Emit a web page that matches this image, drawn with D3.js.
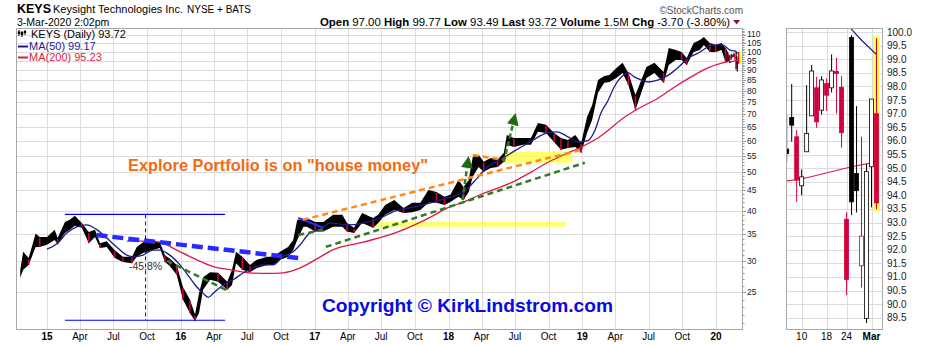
<!DOCTYPE html>
<html>
<head>
<meta charset="utf-8">
<script src="https://cdn.jsdelivr.net/npm/d3@7"></script>
<style>
  body { margin: 0; background: #fff; }
  svg text { font-family: "Liberation Sans", Arial, sans-serif; }
</style>
</head>
<body>
<script>
// ---- price samples (high / low) ----
const priceDates = [
  "2014-10-20","2014-10-28","2014-11-12","2014-12-01","2014-12-12",
  "2015-01-01","2015-01-22","2015-01-30","2015-02-19","2015-03-04","2015-03-18","2015-04-06","2015-04-25","2015-05-12","2015-05-26","2015-06-13","2015-07-05","2015-07-27","2015-08-21","2015-09-03","2015-09-20","2015-10-14","2015-11-05","2015-11-19","2015-12-02","2015-12-21",
  "2016-01-07","2016-01-26","2016-02-09","2016-02-20","2016-03-02","2016-03-21","2016-04-12","2016-05-07","2016-05-20","2016-05-31","2016-06-17","2016-07-08","2016-07-27","2016-08-24","2016-09-09","2016-09-28","2016-10-20","2016-11-03","2016-11-14","2016-12-01","2016-12-10",
  "2017-01-02","2017-01-24","2017-02-20","2017-03-17","2017-03-30","2017-04-18","2017-05-10","2017-06-09","2017-06-23","2017-07-12","2017-08-06","2017-08-31","2017-09-24","2017-10-16","2017-11-07","2017-11-29","2017-12-21",
  "2018-01-06","2018-01-28","2018-02-11","2018-02-25","2018-03-08","2018-03-24","2018-04-07","2018-04-26","2018-05-15","2018-06-01","2018-06-09","2018-06-28","2018-07-23","2018-08-14","2018-09-02","2018-09-24","2018-10-16","2018-11-04","2018-11-23","2018-12-13","2018-12-29",
  "2019-01-14","2019-01-28","2019-02-13","2019-03-02","2019-03-16","2019-04-04","2019-04-21","2019-05-07","2019-05-26","2019-06-09","2019-06-25","2019-07-17","2019-08-11","2019-08-25","2019-09-13","2019-09-29","2019-10-13","2019-11-01","2019-11-18","2019-11-29","2019-12-15","2019-12-31",
  "2020-01-16","2020-01-27","2020-02-04"
];
const priceHigh = [
  28.5, 31.6, 30.5, 35.1, 34.4,
  34.4, 35.9, 34.2, 37.5, 38.0, 38.9, 37.3, 35.4, 35.9, 33.2, 33.6, 31.9, 30.7, 30.7, 32.5, 33.4, 33.8, 33.4, 31.0, 30.4, 29.3,
  25.8, 24.0, 22.0, 24.9, 27.3, 28.1, 28.0, 26.6, 28.5, 31.6, 30.7, 29.3, 30.2, 30.7, 30.7, 31.6, 32.5, 33.8, 38.0, 38.0, 38.4,
  37.5, 37.5, 39.1, 39.1, 37.3, 36.3, 39.5, 38.4, 39.1, 41.4, 42.6, 40.7, 41.9, 41.9, 45.1, 44.6, 43.4,
  43.9, 47.8, 45.9, 47.8, 54.6, 55.3, 53.1, 54.3, 53.7, 55.9, 62.0, 60.9, 60.9, 60.9, 66.4, 65.7, 62.7, 60.9, 60.2, 62.0, 59.2,
  68.7, 73.7, 85.1, 87.1, 87.6, 91.2, 93.9, 88.6, 78.0, 84.1, 91.7, 93.9, 89.1, 102.3, 101.2, 100.0, 96.6, 105.3, 107.2, 109.0, 105.3, 104.1,
  105.3, 102.3, 99.4
];
const priceLow = [
  27.2, 28.5, 29.3, 32.5, 32.5,
  32.9, 33.8, 33.0, 35.2, 35.9, 36.7, 36.3, 33.2, 34.4, 32.3, 32.5, 30.5, 29.8, 29.6, 30.7, 31.4, 31.9, 32.3, 29.8, 29.1, 27.7,
  24.0, 22.2, 21.2, 22.2, 25.4, 26.9, 26.6, 25.4, 26.1, 29.6, 28.5, 28.1, 28.8, 29.3, 29.3, 30.2, 30.7, 31.9, 33.8, 36.5, 36.5,
  35.5, 35.5, 36.5, 36.5, 35.5, 35.2, 37.3, 36.3, 37.3, 39.1, 40.2, 39.5, 39.7, 40.2, 41.9, 41.9, 41.4,
  42.1, 43.4, 42.6, 44.6, 48.7, 51.5, 50.1, 51.2, 51.5, 53.1, 58.6, 57.8, 58.6, 58.6, 63.1, 62.7, 59.5, 56.9, 57.5, 57.8, 55.9,
  62.7, 67.6, 79.0, 83.7, 84.1, 86.1, 88.6, 82.7, 71.6, 78.0, 86.1, 88.6, 83.7, 92.8, 95.5, 95.5, 92.8, 100.0, 101.2, 104.1, 100.0, 100.0,
  101.2, 94.4, 94.4
];

// ---- daily candles of the zoom panel ----
const dayDates = ["2020-02-05","2020-02-06","2020-02-07","2020-02-10","2020-02-11","2020-02-12","2020-02-13","2020-02-14","2020-02-18","2020-02-19","2020-02-20","2020-02-21","2020-02-24","2020-02-25","2020-02-26","2020-02-27","2020-02-28","2020-03-02","2020-03-03"];
const dayOpen  = [95.70, 96.86, 96.15, 94.35, 95.60, 96.92, 97.95, 97.13, 98.11, 97.95, 98.55, 97.97, 93.12, 99.80, 94.80, 91.41, 89.47, 95.05, 97.00];
const dayHigh  = [96.95, 98.09, 96.40, 94.95, 98.05, 98.79, 98.36, 98.38, 98.30, 99.18, 99.06, 98.38, 93.37, 99.89, 97.28, 96.15, 95.15, 97.54, 99.77];
const dayLow   = [95.23, 95.97, 93.76, 94.00, 95.60, 96.92, 96.48, 96.97, 97.10, 97.78, 97.01, 95.75, 90.33, 93.27, 93.37, 90.61, 89.31, 93.56, 93.49];
const dayClose = [95.54, 96.58, 94.56, 94.68, 96.27, 98.57, 96.70, 98.24, 97.68, 98.57, 98.48, 96.30, 90.91, 93.76, 94.17, 92.50, 94.87, 97.54, 93.72];

// ---- moving averages ----
const ma50Dates = ["2015-01-01","2015-01-30","2015-02-24","2015-03-23","2015-04-19","2015-05-17","2015-06-13","2015-07-10","2015-08-07","2015-08-24","2015-09-20","2015-10-17","2015-11-05","2015-12-02","2015-12-30","2016-01-26","2016-02-14","2016-03-02","2016-03-16","2016-03-30","2016-04-26","2016-05-23","2016-06-20","2016-07-17","2016-08-13","2016-09-09","2016-10-05","2016-11-03","2016-11-22","2016-12-19","2017-01-16","2017-02-12","2017-03-30","2017-05-13","2017-06-29","2017-08-14","2017-09-28","2017-11-13","2017-12-29","2018-02-11","2018-03-21","2018-04-16","2018-05-22","2018-06-26","2018-08-11","2018-09-27","2018-10-24","2018-11-23","2018-12-20","2019-01-16","2019-02-05","2019-02-21","2019-03-13","2019-03-29","2019-04-24","2019-05-07","2019-05-23","2019-06-11","2019-06-30","2019-07-28","2019-08-25","2019-09-21","2019-10-18","2019-11-14","2019-12-10","2020-01-03","2020-01-19","2020-02-07","2020-02-24","2020-02-25","2020-02-27","2020-03-02","2020-03-03"];
const ma50Values = [32.1, 33.2, 35.2, 36.5, 36.9, 35.9, 34.2, 32.5, 31.0, 30.7, 31.0, 31.9, 31.9, 31.0, 29.3, 27.2, 25.8, 24.9, 24.3, 24.9, 26.1, 26.9, 28.0, 28.8, 29.3, 29.3, 30.7, 31.6, 32.9, 35.3, 36.0, 37.3, 36.9, 37.3, 38.4, 40.2, 40.9, 41.9, 43.1, 44.6, 48.4, 51.5, 53.7, 56.2, 59.5, 62.7, 63.1, 61.3, 59.5, 60.0, 63.8, 70.3, 75.8, 81.7, 87.6, 88.6, 86.6, 85.1, 84.1, 85.1, 87.6, 91.7, 96.6, 99.4, 102.9, 104.1, 104.1, 101.2, 100.35, 100.1, 99.7, 99.35, 99.17];
const ma200Dates = ["2015-08-07","2015-09-20","2015-11-05","2015-12-21","2016-02-03","2016-03-30","2016-05-14","2016-07-07","2016-08-24","2016-10-07","2016-11-22","2017-01-16","2017-02-17","2017-05-13","2017-08-14","2017-11-13","2017-12-29","2018-02-11","2018-03-28","2018-05-15","2018-06-26","2018-08-11","2018-09-27","2018-11-10","2018-12-29","2019-02-13","2019-04-27","2019-06-11","2019-07-28","2019-09-10","2019-10-25","2019-12-10","2020-01-19","2020-02-05","2020-02-10","2020-02-25","2020-03-03"];
const ma200Values = [33.6, 33.6, 33.4, 31.9, 30.5, 29.0, 28.5, 28.0, 27.9, 28.0, 28.8, 30.7, 31.9, 33.4, 35.4, 38.6, 40.7, 42.1, 43.9, 45.6, 47.3, 49.8, 52.8, 55.2, 57.8, 60.9, 68.7, 72.8, 76.7, 81.7, 86.6, 91.2, 93.9, 94.53, 94.6, 95.05, 95.23];

// ---- axes ----
const priceTicks = [110, 105, 100, 95, 90, 85, 80, 75, 70, 65, 60, 55, 50, 45, 40, 35, 30, 25];
const zoomTicks = [100.0, 99.5, 99.0, 98.5, 98.0, 97.5, 97.0, 96.5, 96.0, 95.5, 95.0, 94.5, 94.0, 93.5, 93.0, 92.5, 92.0, 91.5, 91.0, 90.5, 90.0, 89.5];
const tickDates = ["2015-01-01","2015-04-01","2015-07-01","2015-10-01","2016-01-01","2016-04-01","2016-07-01","2016-10-01","2017-01-01","2017-04-01","2017-07-01","2017-10-01","2018-01-01","2018-04-01","2018-07-01","2018-10-01","2019-01-01","2019-04-01","2019-07-01","2019-10-01","2020-01-01"];
const tickLabels = ["15","Apr","Jul","Oct","16","Apr","Jul","Oct","17","Apr","Jul","Oct","18","Apr","Jul","Oct","19","Apr","Jul","Oct","20"];
const zoomTickDates = ["2020-02-10","2020-02-18","2020-02-24","2020-03-02"];
const zoomTickLabels = ["10","18","24","Mar"];

// ---- annotations (date, price) ----
const rangeBox = { start: "2015-02-19", end: "2016-05-01", mid: "2015-09-27", top: 39.2, bottom: 21.3, label: "-45.8%" };
const blueTrend   = [["2015-05-16", 34.8], ["2016-11-28", 30.4]];
const greenTrend1 = [["2015-11-24", 30.0], ["2016-05-14", 25.1]];
const blueFlag    = [["2016-11-17", 38.4], ["2017-01-24", 36.3]];
const greenFlag   = [["2016-11-17", 34.8], ["2017-01-24", 35.9]];
const orangeTrend = [["2016-11-29", 38.0], ["2018-12-29", 56.9]];
const orangeTop   = [["2018-03-08", 55.2], ["2018-06-01", 53.7]];
const greenTrend2 = [["2017-01-31", 32.5], ["2019-01-08", 52.8]];
const arrow1      = [["2018-02-08", 42.6], ["2018-02-25", 54.9]];
const arrow2      = [["2018-06-01", 53.1], ["2018-07-03", 70.3]];
const yellowBand  = [["2017-06-09", 37.5], ["2018-11-18", 36.5]];
const yellowBox   = [["2018-06-01", 56.3], ["2018-12-05", 52.8]];

const headerLabels = ["Open", "High", "Low", "Last", "Volume", "Chg"];
const headerValues = ["97.00", "99.77", "93.49", "93.72", "1.5M", "-3.70 (-3.80%)"];

// ---------------------------------------------------------------
const parse = d3.timeParse("%Y-%m-%d");
const svg = d3.select("body").append("svg").attr("width", 930).attr("height", 345);

const RED = "#d2003c", NAVY = "#1c1c8c", CRIMSON = "#dc1c46", GRID = "#dcdcdc", BORDER = "#a8a8a8";

// scales for the main panel
const x = d3.scaleTime().domain([parse("2015-01-01"), parse("2020-01-01")]).range([47, 716]);
const y = d3.scaleLog().domain([20.25, 114.8]).range([329, 28]);

// scales for the zoom panel
const xz = d3.scalePoint().domain(dayDates).range([786.7, 876.5]);
const yz = d3.scaleLinear().domain([89.05, 100.15]).range([330, 28]);

const defs = svg.append("defs");
defs.append("clipPath").attr("id", "clipMain").append("rect")
  .attr("x", 17).attr("y", 29).attr("width", 725).attr("height", 300);
defs.append("clipPath").attr("id", "clipZoom").append("rect")
  .attr("x", 787).attr("y", 29).attr("width", 96).attr("height", 300);

// ---- header ----
svg.append("text").attr("x", 17).attr("y", 13).style("font-size", "12.5px").style("font-weight", "bold").text("KEYS");
svg.append("text").attr("x", 53).attr("y", 13).style("font-size", "11px").text("Keysight Technologies Inc.");
svg.append("text").attr("x", 187).attr("y", 13).style("font-size", "10px").text("NYSE + BATS");
svg.append("text").attr("x", 17).attr("y", 26).style("font-size", "10.5px").text("3-Mar-2020 2:02pm");
svg.append("text").attr("x", 743).attr("y", 14).attr("text-anchor", "end")
  .style("font-size", "10px").style("fill", "#555").text("\u00A9StockCharts.com");

const hdr = svg.append("text").attr("x", 320).attr("y", 26).style("font-size", "11.4px");
headerLabels.forEach((lab, i) => {
  hdr.append("tspan").style("font-weight", "bold").text((i ? "  " : "") + lab);
  hdr.append("tspan").text(" " + headerValues[i]);
});
const hw = hdr.node().getComputedTextLength();
svg.append("path")
  .attr("d", `M${320 + hw + 3},20 l7,0 l-3.5,4.5 z`)
  .attr("fill", "#8b1538");

// ---- main panel grid ----
const gMain = svg.append("g");
gMain.selectAll("line.hg").data(priceTicks).join("line")
  .attr("x1", 17).attr("x2", 742)
  .attr("y1", d => Math.round(y(d)) + 0.5).attr("y2", d => Math.round(y(d)) + 0.5)
  .attr("stroke", GRID);
gMain.selectAll("line.vg").data(tickDates).join("line")
  .attr("x1", d => Math.round(x(parse(d))) + 0.5).attr("x2", d => Math.round(x(parse(d))) + 0.5)
  .attr("y1", 29).attr("y2", 329)
  .attr("stroke", GRID);

// right axis labels + ruler ticks (top label nudged up, the log scale packs them tight)
svg.selectAll("text.py").data(priceTicks).join("text")
  .attr("x", 747).attr("y", (d, i) => y(d) + (i === 0 ? 2 : 3))
  .style("font-size", "8.5px").style("fill", "#222")
  .text(d => d);
svg.selectAll("line.minor").data(d3.range(21, 115)).join("line")
  .attr("x1", 742).attr("x2", d => priceTicks.includes(d) ? 746 : 744.5)
  .attr("y1", d => Math.round(y(d)) + 0.5).attr("y2", d => Math.round(y(d)) + 0.5)
  .attr("stroke", "#999");

// bottom labels
svg.selectAll("text.px").data(tickDates).join("text")
  .attr("x", d => x(parse(d))).attr("y", 340)
  .attr("text-anchor", "middle")
  .style("font-size", "10px")
  .style("font-weight", (d, i) => tickLabels[i].length === 2 ? "bold" : "normal")
  .text((d, i) => tickLabels[i]);

// ---- main panel plot ----
const plot = svg.append("g").attr("clip-path", "url(#clipMain)");
const pt = d => [x(parse(d[0])), y(d[1])];

// yellow highlights
function yRect(r) {
  const a = pt(r[0]), b = pt(r[1]);
  plot.append("rect").attr("x", a[0]).attr("y", a[1]).attr("width", b[0] - a[0]).attr("height", b[1] - a[1])
    .attr("fill", "#ffff33").attr("opacity", 0.7);
}
yRect(yellowBand);
yRect(yellowBox);

const samples = priceDates.map((d, i) => ({ date: parse(d), high: priceHigh[i], low: priceLow[i] }));
plot.append("path").datum(samples)
  .attr("d", d3.area().x(d => x(d.date)).y0(d => y(d.low)).y1(d => y(d.high)))
  .attr("fill", "#000");

// down-stretches tinted red like the red candles
plot.selectAll("line.dn").data(samples.filter((d, i) => i > 0 && d.high + d.low < samples[i - 1].high + samples[i - 1].low))
  .join("line")
  .attr("x1", d => x(d.date)).attr("x2", d => x(d.date))
  .attr("y1", d => y(d.high) + 1).attr("y2", d => y(d.low))
  .attr("stroke", RED).attr("stroke-width", 1.6);

const days = dayDates.map((d, i) => ({
  key: d, date: parse(d), o: dayOpen[i], h: dayHigh[i], l: dayLow[i], c: dayClose[i],
  col: i > 0 && dayClose[i] < dayClose[i - 1] ? RED : "#000"
}));
const last = days[days.length - 1];
plot.append("rect")
  .attr("x", x(last.date) - 2.5).attr("y", y(last.h)).attr("width", 5).attr("height", y(last.l) - y(last.h))
  .attr("fill", "#ffff33");
plot.selectAll("line.day").data(days).join("line")
  .attr("x1", d => x(d.date)).attr("x2", d => x(d.date))
  .attr("y1", d => y(d.h)).attr("y2", d => y(d.l))
  .attr("stroke", d => d.col).attr("stroke-width", 1.2);

// moving averages
const ma50 = ma50Dates.map((d, i) => ({ key: d, date: parse(d), v: ma50Values[i] }));
const ma200 = ma200Dates.map((d, i) => ({ key: d, date: parse(d), v: ma200Values[i] }));
const maLine = d3.line().x(d => x(d.date)).y(d => y(d.v)).curve(d3.curveMonotoneX);
plot.append("path").datum(ma200).attr("d", maLine).attr("fill", "none").attr("stroke", CRIMSON).attr("stroke-width", 1.3);
plot.append("path").datum(ma50).attr("d", maLine).attr("fill", "none").attr("stroke", NAVY).attr("stroke-width", 1.3);

// trend lines
function seg(s, color, width, dash) {
  const a = pt(s[0]), b = pt(s[1]);
  plot.append("line").attr("x1", a[0]).attr("y1", a[1]).attr("x2", b[0]).attr("y2", b[1])
    .attr("stroke", color).attr("stroke-width", width).attr("stroke-dasharray", dash);
}
seg(blueTrend, "#2a2aff", 4.5, "11,5");
seg(greenTrend1, "#2f7d1f", 2.5, "6,4");
seg(blueFlag, "#2a2aff", 2, null);
seg(greenFlag, "#2f7d1f", 2.5, "6,4");
seg(orangeTrend, "#ff8a1c", 2.5, "6,4");
seg(orangeTop, "#ff8a1c", 2.5, "6,4");
seg(greenTrend2, "#2f7d1f", 2.5, "6,4");

function arrow(s) {
  const a = pt(s[0]), b = pt(s[1]);
  const ang = Math.atan2(b[1] - a[1], b[0] - a[0]);
  const len = 12, half = 6;
  const bx = b[0] - len * Math.cos(ang), by = b[1] - len * Math.sin(ang);
  plot.append("line").attr("x1", a[0]).attr("y1", a[1]).attr("x2", bx).attr("y2", by)
    .attr("stroke", "#2f7d1f").attr("stroke-width", 2.5).attr("stroke-dasharray", "5,3");
  const px = -Math.sin(ang) * half, py = Math.cos(ang) * half;
  plot.append("path")
    .attr("d", `M${b[0]},${b[1]} L${bx + px},${by + py} L${bx - px},${by - py} Z`)
    .attr("fill", "#1f6b12");
}
arrow(arrow1);
arrow(arrow2);

// -45.8% range
const rx1 = x(parse(rangeBox.start)), rx2 = x(parse(rangeBox.end)), rxm = x(parse(rangeBox.mid));
[rangeBox.top, rangeBox.bottom].forEach(v => {
  plot.append("line").attr("x1", rx1).attr("x2", rx2).attr("y1", y(v)).attr("y2", y(v))
    .attr("stroke", "#0000ff").attr("stroke-width", 1.2);
});
plot.append("line").attr("x1", rxm).attr("x2", rxm).attr("y1", y(rangeBox.top)).attr("y2", y(rangeBox.bottom))
  .attr("stroke", "#0000ff").attr("stroke-width", 1).attr("stroke-dasharray", "4,3");
svg.append("text").attr("x", rxm).attr("y", 270).attr("text-anchor", "middle")
  .style("font-size", "10.5px").style("fill", "#333").text(rangeBox.label);

// big annotation texts
svg.append("text").attr("x", 128).attr("y", 171)
  .attr("textLength", 300).attr("lengthAdjust", "spacingAndGlyphs")
  .style("font-size", "17px").style("font-weight", "bold").style("fill", "#f46a12")
  .text("Explore Portfolio is on \"house money\"");
svg.append("text").attr("x", 322).attr("y", 312)
  .attr("textLength", 291).attr("lengthAdjust", "spacingAndGlyphs")
  .style("font-size", "19px").style("font-weight", "bold").style("fill", "#0a0ae6")
  .text("Copyright \u00A9 KirkLindstrom.com");

// legend
const lg = svg.append("g");
[[19, 30, 36, 31.5, 34], [22, 31, 37, 32, 35], [25, 30, 35, 31, 33]].forEach(c => {
  lg.append("line").attr("x1", c[0]).attr("x2", c[0]).attr("y1", c[1]).attr("y2", c[2]).attr("stroke", "#000");
  lg.append("rect").attr("x", c[0] - 1.2).attr("y", c[3]).attr("width", 2.4).attr("height", c[4] - c[3]).attr("fill", "#000");
});
lg.append("text").attr("x", 31).attr("y", 38).style("font-size", "11px").text("KEYS (Daily) 93.72");
lg.append("line").attr("x1", 18).attr("x2", 28).attr("y1", 46.5).attr("y2", 46.5).attr("stroke", NAVY).attr("stroke-width", 2);
lg.append("text").attr("x", 29).attr("y", 50).style("font-size", "11px").style("fill", NAVY).text("MA(50) 99.17");
lg.append("line").attr("x1", 18).attr("x2", 28).attr("y1", 57.5).attr("y2", 57.5).attr("stroke", CRIMSON).attr("stroke-width", 2);
lg.append("text").attr("x", 29).attr("y", 61).style("font-size", "11px").style("fill", CRIMSON).text("MA(200) 95.23");

// main border
svg.append("rect").attr("x", 16.5).attr("y", 28.5).attr("width", 726).attr("height", 301)
  .attr("fill", "none").attr("stroke", BORDER);

// ---- zoom panel ----
const gz = svg.append("g");
gz.selectAll("line.zh").data(zoomTicks).join("line")
  .attr("x1", 787).attr("x2", 883)
  .attr("y1", d => Math.round(yz(d)) + 0.5).attr("y2", d => Math.round(yz(d)) + 0.5)
  .attr("stroke", GRID);
gz.selectAll("line.zv").data(zoomTickDates).join("line")
  .attr("x1", d => Math.round(xz(d)) + 0.5).attr("x2", d => Math.round(xz(d)) + 0.5)
  .attr("y1", 29).attr("y2", 330)
  .attr("stroke", GRID);
svg.selectAll("text.zy").data(zoomTicks).join("text")
  .attr("x", 887).attr("y", d => yz(d) + 3.5)
  .style("font-size", "10px").style("fill", "#222")
  .text(d => d3.format(".1f")(d));
svg.selectAll("text.zx").data(zoomTickDates).join("text")
  .attr("x", d => xz(d)).attr("y", 340).attr("text-anchor", "middle")
  .style("font-size", "10px")
  .style("font-weight", (d, i) => zoomTickLabels[i] === "Mar" ? "bold" : "normal")
  .text((d, i) => zoomTickLabels[i]);

const zp = svg.append("g").attr("clip-path", "url(#clipZoom)");
zp.append("rect")
  .attr("x", xz(last.key) - 3.5).attr("y", yz(last.h) - 2).attr("width", 7).attr("height", yz(last.l) - yz(last.h) + 4)
  .attr("fill", "#ffff44");

const zLine = d3.line().x(d => xz(d.key)).y(d => yz(d.v));
zp.append("path").datum(ma200.filter(d => dayDates.includes(d.key)))
  .attr("d", zLine).attr("fill", "none").attr("stroke", CRIMSON).attr("stroke-width", 1.2);
zp.append("path").datum(ma50.filter(d => dayDates.includes(d.key)))
  .attr("d", zLine).attr("fill", "none").attr("stroke", NAVY).attr("stroke-width", 1.2);

zp.selectAll("line.wick").data(days).join("line")
  .attr("x1", d => xz(d.key)).attr("x2", d => xz(d.key))
  .attr("y1", d => yz(d.h)).attr("y2", d => yz(d.l))
  .attr("stroke", d => d.col).attr("stroke-width", 1);
zp.selectAll("rect.body").data(days).join("rect")
  .attr("x", d => xz(d.key) - 2).attr("width", 4)
  .attr("y", d => yz(Math.max(d.o, d.c)))
  .attr("height", d => Math.max(1, Math.abs(yz(d.o) - yz(d.c))))
  .attr("fill", d => d.c < d.o ? d.col : "#fff")
  .attr("stroke", d => d.col).attr("stroke-width", 0.8);

svg.append("rect").attr("x", 786.5).attr("y", 28.5).attr("width", 96).attr("height", 301)
  .attr("fill", "none").attr("stroke", BORDER);
</script>
</body>
</html>
